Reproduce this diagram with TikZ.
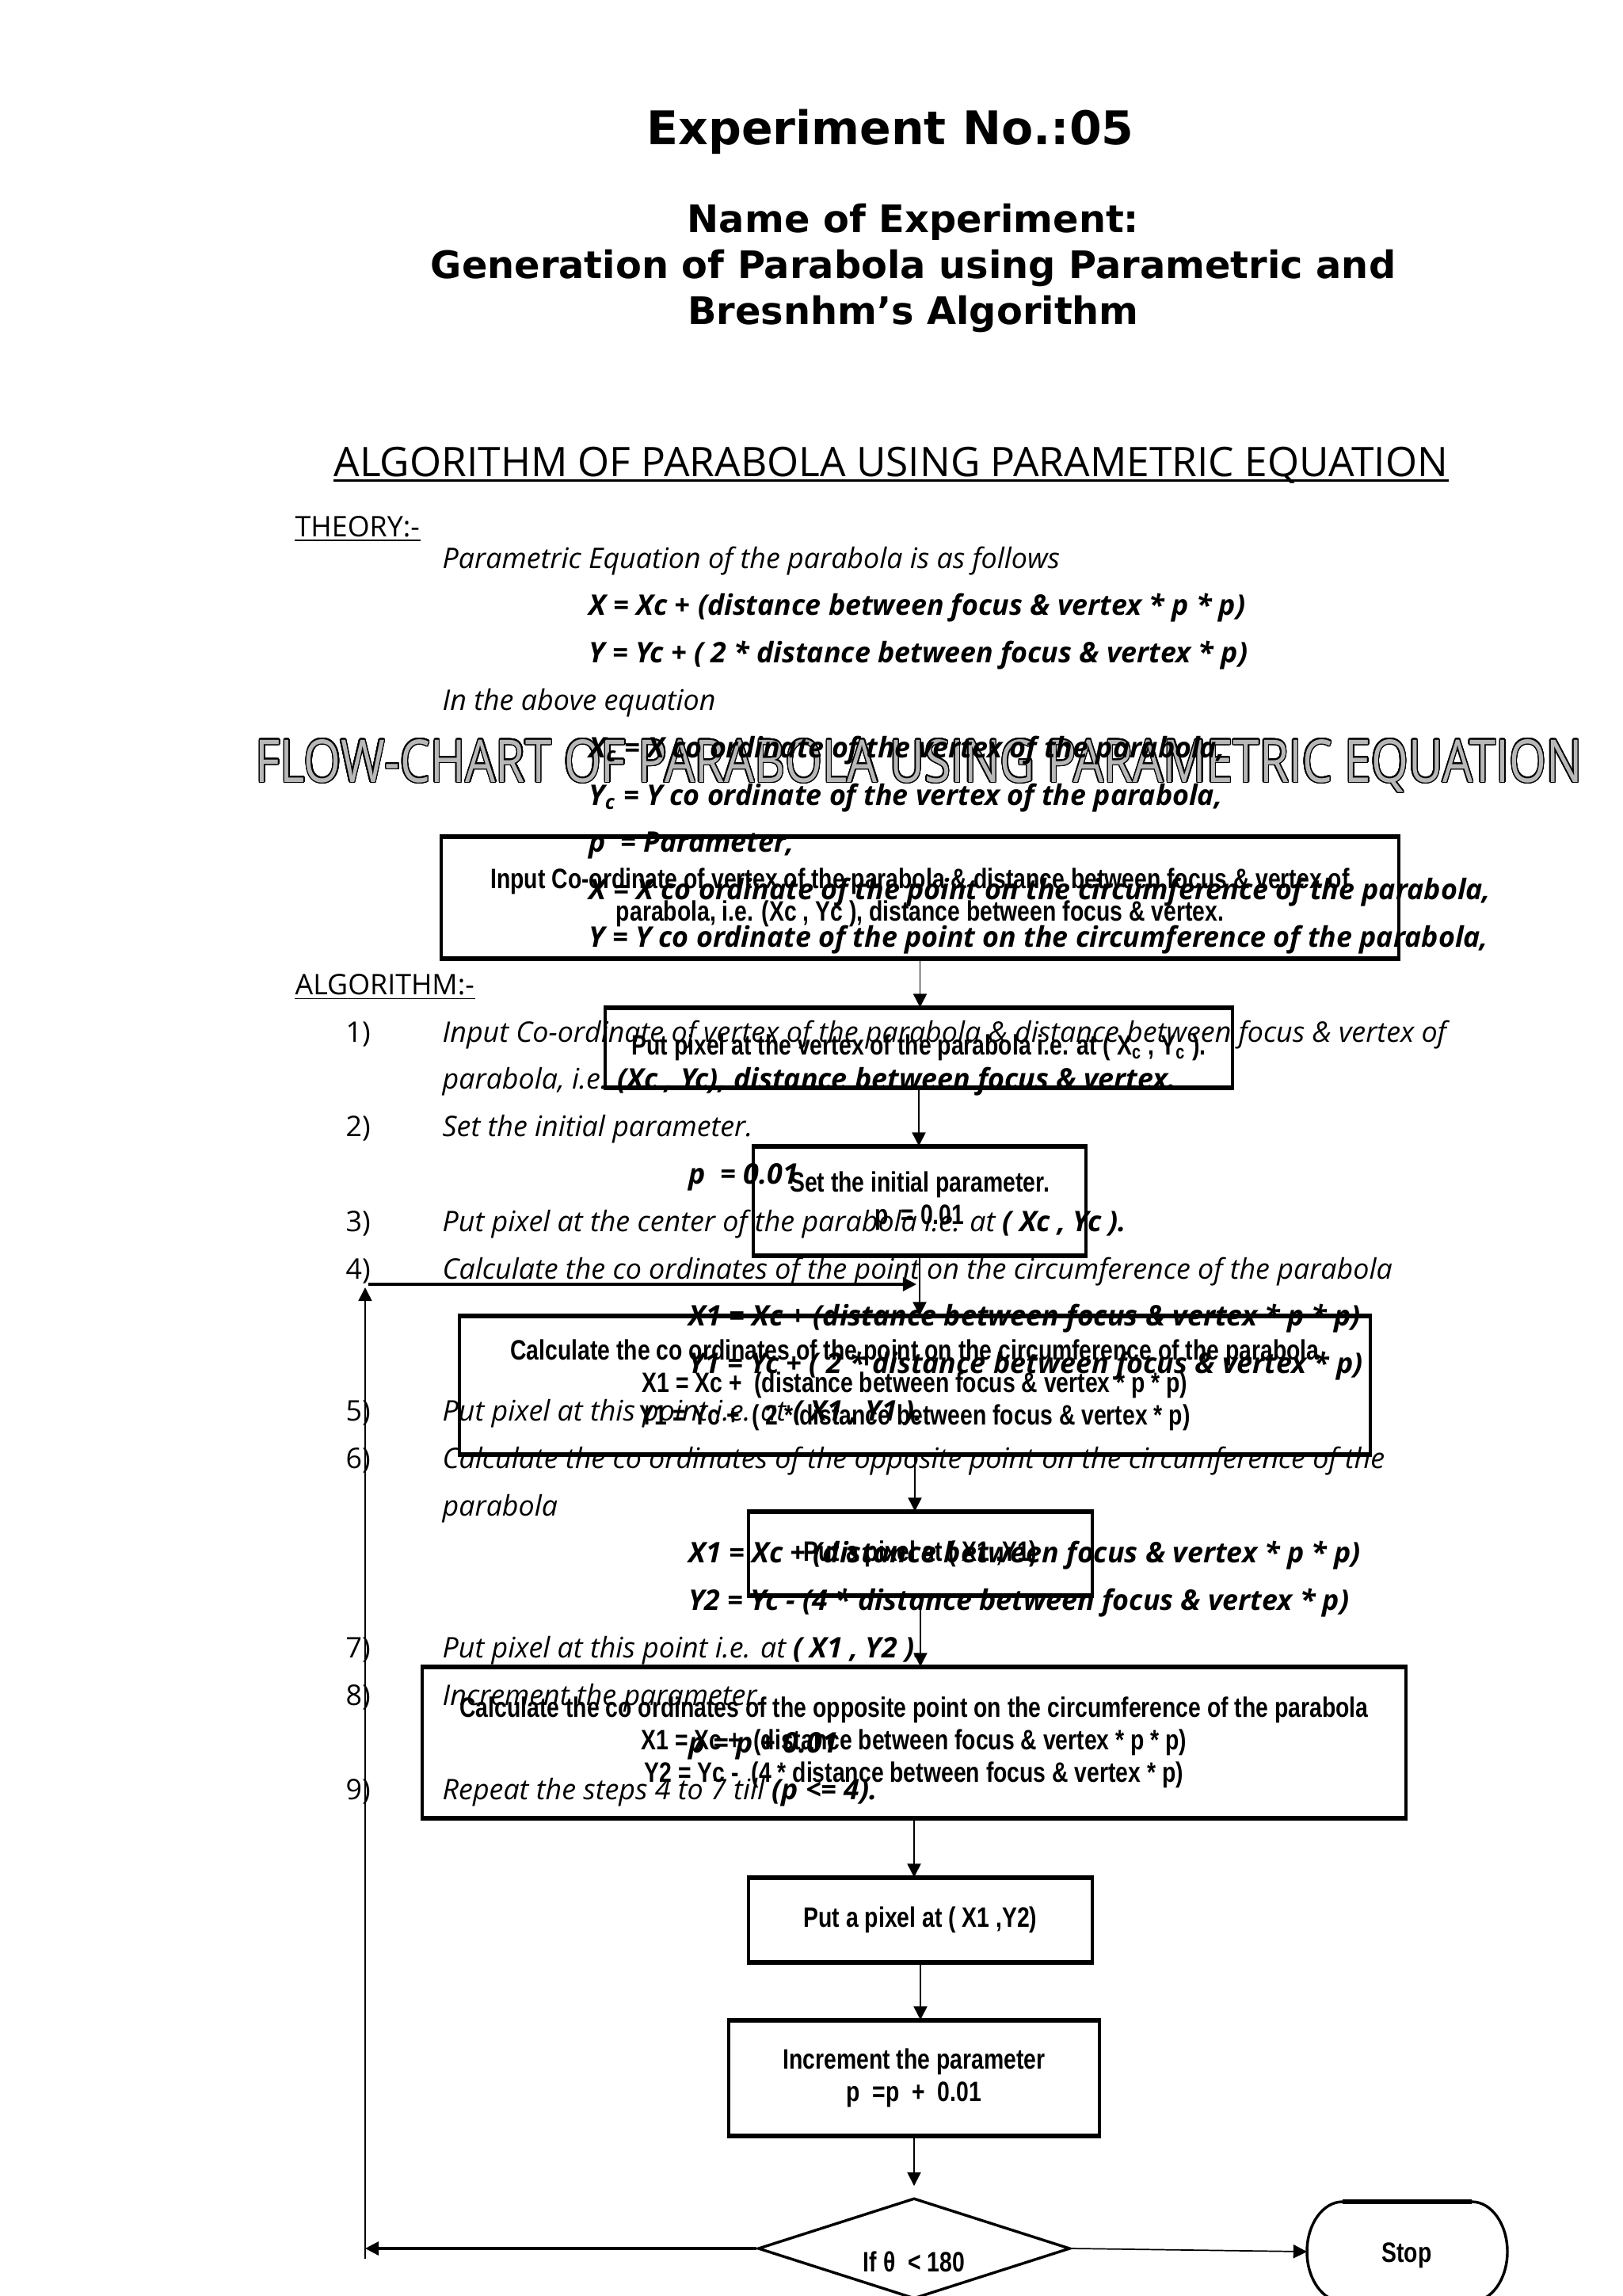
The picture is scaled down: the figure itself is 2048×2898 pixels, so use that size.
\documentclass[tikz,border=0pt]{standalone}
\usepackage{fontspec}
\setmainfont{Open Sans}
\newfontfamily\titlefont{DejaVu Sans}
\newfontfamily\boxfont[FakeStretch=0.80]{Liberation Sans}
\usepackage[copies]{contour}
\usetikzlibrary{arrows.meta,shapes.geometric}
\contourlength{0.5pt}
\contournumber{24}
\newcommand\bodyf{\fontsize{10.4pt}{12pt}\selectfont}
\newcommand\bxf{\boxfont\bfseries\fontsize{10.3pt}{11.9pt}\selectfont}
\tikzset{
  body/.style={anchor=base west,inner sep=0pt,font=\bodyf\itshape},
  num/.style={anchor=base west,inner sep=0pt,font=\bodyf},
  ttl/.style={anchor=base,inner sep=0pt,font=\titlefont\bfseries\fontsize{13.9pt}{16pt}\selectfont},
  fbox/.style={draw,line width=0.9pt,inner sep=0pt,align=center,font=\bxf},
  conn/.style={line width=0.5pt,-{Triangle[length=5pt,width=5pt]}},
  connthick/.style={line width=0.9pt,-{Triangle[length=5pt,width=5pt]}},
}
\begin{document}
\begin{tikzpicture}[x=0.29053pt,y=-0.29053pt]
\useasboundingbox (0,0) rectangle (2048,2898);
\fill[white] (0,0) rectangle (2048,2898);

% titles
\node[ttl,font=\titlefont\bfseries\fontsize{17pt}{20pt}\selectfont] (title) at (1124,183) {Experiment No.:05};
\node[ttl] (name1) at (1153,294) {Name of Experiment:};
\node[ttl] (name2) at (1153,352) {Generation of Parabola using Parametric and};
\node[ttl] (name3) at (1153,410) {Bresnhm’s Algorithm};

% heading
\node[anchor=base west,inner sep=0pt] (alg) at (421,602) {\resizebox{408.5pt}{!}{\fontsize{15.5pt}{18pt}\selectfont ALGORITHM OF PARABOLA USING PARAMETRIC EQUATION}};
\draw[line width=0.8pt] ([yshift=-1.3pt]alg.base west) -- ([yshift=-1.3pt]alg.base east);

% flow chart heading (outlined)
\node[anchor=base west,inner sep=0pt] (fc) at (322,987) {\resizebox{486.6pt}{15.7pt}{\fontsize{21pt}{24pt}\selectfont\textcolor{black!28}{\contour{black}{FLOW-CHART OF PARABOLA USING PARAMETRIC EQUATION}}}};

% theory
\node[num] (theory) at (372,677) {THEORY:-};
\draw[line width=0.5pt] ([yshift=-1.5pt]theory.base west) -- ([yshift=-1.5pt]theory.base east);
\node[body] (l0) at (558,717) {Parametric Equation of the parabola is as follows};
\node[body] (l1) at (743,776.8) {\textbf{X = Xc + (distance between focus \& vertex * p * p)}};
\node[body] (l2) at (743,836.6) {\textbf{Y = Yc + ( 2 * distance between focus \& vertex * p)}};
\node[body] (l3) at (558,896.4) {In the above equation};
\node[body] (l4) at (743,956.2) {\textbf{X\textsubscript{c} = X co ordinate of the vertex of the parabola,}};
\node[body] (l5) at (743,1016) {\textbf{Y\textsubscript{c} = Y co ordinate of the vertex of the parabola,}};
\node[body] (l6) at (743,1075.8) {\textbf{p\ \ = Parameter,}};
\node[body] (l7) at (743,1135.6) {\textbf{X = X co ordinate of the point on the circumference of the parabola,}};
\node[body] (l8) at (743,1195.4) {\textbf{Y = Y co ordinate of the point on the circumference of the parabola,}};

% algorithm
\node[num] (algo) at (372,1255.2) {ALGORITHM:-};
\draw[line width=0.5pt] ([yshift=-1.5pt]algo.base west) -- ([yshift=-1.5pt]algo.base east);
\node[num] (n1) at (436,1315) {1)};
\node[body] (l10) at (558,1315) {Input Co-ordinate of vertex of the parabola \& distance between focus \& vertex of};
\node[body] (l11) at (558,1374.8) {parabola, i.e. \textbf{(Xc , Yc), distance between focus \& vertex.}};
\node[num] (n2) at (436,1434.6) {2)};
\node[body] (l12) at (558,1434.6) {Set the initial parameter.};
\node[body] (l13) at (869,1494.4) {\textbf{p\ \ = 0.01}};
\node[num] (n3) at (436,1554.2) {3)};
\node[body] (l14) at (558,1554.2) {Put pixel at the center of the parabola i.e. at \textbf{( Xc , Yc ).}};
\node[num] (n4) at (436,1614) {4)};
\node[body] (l15) at (558,1614) {Calculate the co ordinates of the point on the circumference of the parabola};
\node[body] (l16) at (869,1673.8) {\textbf{X1 = Xc + (distance between focus \& vertex * p * p)}};
\node[body] (l17) at (869,1733.6) {\textbf{Y1 = Yc + ( 2 * distance between focus \& vertex * p)}};
\node[num] (n5) at (436,1793.4) {5)};
\node[body] (l18) at (558,1793.4) {Put pixel at this point i.e. at \textbf{( X1 , Y1 ).}};
\node[num] (n6) at (436,1853.2) {6)};
\node[body] (l19) at (558,1853.2) {Calculate the co ordinates of the opposite point on the circumference of the};
\node[body] (l20) at (558,1913) {parabola};
\node[body] (l21) at (869,1972.8) {\textbf{X1 = Xc + (distance between focus \& vertex * p * p)}};
\node[body] (l22) at (869,2032.6) {\textbf{Y2 = Yc - (4 * distance between focus \& vertex * p)}};
\node[num] (n7) at (436,2092.4) {7)};
\node[body] (l23) at (558,2092.4) {Put pixel at this point i.e. at \textbf{( X1 , Y2 ).}};
\node[num] (n8) at (436,2152.2) {8)};
\node[body] (l24) at (558,2152.2) {Increment the parameter.};
\node[body] (l25) at (869,2212) {\textbf{p = p + 0.01}};
\node[num] (n9) at (436,2271.8) {9)};
\node[body] (l26) at (558,2271.8) {Repeat the steps 4 to 7 till \textbf{(p <= 4).}};

% flow chart boxes
\node[fbox,minimum width={1209*0.29053pt},minimum height={152*0.29053pt}] (b1) at (1161.5,1133) {Input Co-ordinate of vertex of the parabola \& distance between focus \& vertex of\\parabola, i.e. (Xc , Yc ), distance between focus \& vertex.};
\node[fbox,minimum width={792*0.29053pt},minimum height={99*0.29053pt}] (b2) at (1160,1322.5) {Put pixel at the vertex of the parabola i.e. at ( X\textsubscript{c} , Y\textsubscript{c} ).};
\node[fbox,minimum width={420*0.29053pt},minimum height={136*0.29053pt}] (b3) at (1161,1516) {Set the initial parameter.\\p\ \ = 0.01};
\node[fbox,minimum width={1150*0.29053pt},minimum height={173*0.29053pt}] (b4) at (1155,1748.5) {Calculate the co ordinates of the point on the circumference of the parabola\\X1 = Xc +\ \ (distance between focus \& vertex * p * p)\\Y1 = Yc +\ \ ( 2 * distance between focus \& vertex * p)};
\node[fbox,minimum width={434*0.29053pt},minimum height={104*0.29053pt}] (b5) at (1162,1961) {Put a pixel at ( X1 ,Y1)};
\node[fbox,minimum width={1242*0.29053pt},minimum height={189*0.29053pt}] (b6) at (1154,2199.5) {Calculate the co ordinates of the opposite point on the circumference of the parabola\\X1 = Xc +\ \ (distance between focus \& vertex * p * p)\\Y2 = Yc -\ \ (4 * distance between focus \& vertex * p)};
\node[fbox,minimum width={434*0.29053pt},minimum height={105*0.29053pt}] (b7) at (1162,2423.5) {Put a pixel at ( X1 ,Y2)};
\node[fbox,minimum width={468*0.29053pt},minimum height={144*0.29053pt}] (b8) at (1154,2623) {Increment the parameter\\p\ \ =p\ \ +\ \ 0.01};
\foreach \b in {b1,b2,b3,b4,b5,b6,b7,b8}{
  \draw[line width=1.6pt] (\b.north west) -- (\b.north east);
  \draw[line width=1.6pt] (\b.south west) -- (\b.south east);
}

% decision
\node[draw,diamond,line width=1pt,inner sep=0pt,minimum width={394*0.29053pt},minimum height={127*0.29053pt}] (dec) at (1154,2838) {};
\node[inner sep=0pt,font=\bxf] (dectext) at (1154,2855) {If θ\ \ < 180};

% stop terminal
\node[inner sep=0pt,font=\bxf] (stop) at (1776,2847) {Stop};
\coordinate (stopW) at (1650,2842);
\draw[line width=1pt] (1695,2779) -- (1858,2779) arc[start angle=-90,end angle=90,x radius=45,y radius=63] -- (1695,2905) arc[start angle=90,end angle=270,x radius=45,y radius=63] -- cycle;
\draw[line width=1.6pt] (1695,2779) -- (1858,2779);

% connectors
\draw[conn] (b1.south) -- (b1.south |- b2.north);
\draw[conn] (b2.south) -- (b2.south |- b3.north);
\draw[conn] (b3.south) -- (b3.south |- b4.north);
\draw[conn] (b4.south) -- (b4.south |- b5.north);
\draw[conn] (b5.south) -- (b5.south |- b6.north);
\draw[conn] (b6.south) -- (b6.south |- b7.north);
\draw[conn] (b7.south) -- (b7.south |- b8.north);
\draw[conn,shorten >=4pt] (b8.south) -- (b8.south |- dec.north);
\draw[conn] (dec.east) -- (stopW);
\coordinate (loopBot) at (461,2851);
\coordinate (loopTop) at (461,1625);
\coordinate (hl) at (465,1621);
\coordinate (hr) at (1157,1621);
\draw[connthick] (dec.west) -- (dec.west -| loopBot);
\draw[conn] (loopBot) -- (loopTop);
\draw[connthick] (hl) -- (hr);
\end{tikzpicture}
\end{document}
